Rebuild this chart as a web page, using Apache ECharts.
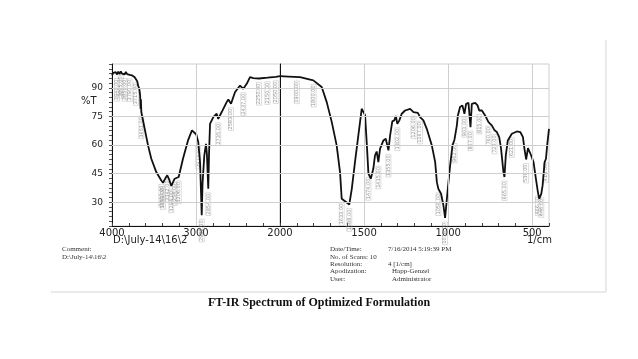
<!DOCTYPE html>
<html><head><meta charset="utf-8">
<script src="https://cdn.jsdelivr.net/npm/echarts@6/dist/echarts.min.js"></script>
<style>html,body{margin:0;padding:0;background:#fff}#c{width:638px;height:359px}</style>
</head><body><div id="c"></div>
<script>
// Wavenumber (1/cm) and %T, 4000 -> 2000 section
const wnHigh = [4000,3985,3970,3955,3940,3925,3910,3895,3880,3865,3850,3835,3820,3805,3790,3775,3760,3745,3730,3715,3700,3690,3675,3665,3660,3656,3651,3611,3571,3532,3473,3413,3393,3365,3342,3320,3294,3254,3206,3155,3095,3048,3030,2996,2973,2952,2940,2932,2922,2901,2881,2870,2854,2845,2833,2794,2754,2735,2694,2635,2615,2583,2536,2476,2437,2396,2357,2318,2250,2150,2050,2000];
const tHigh  = [96.5,97.8,96.8,98.2,97.0,98.5,97.2,98.6,97.4,98.4,97.0,98.3,97.2,98.0,96.8,97.6,96.5,96.8,95.5,94.8,93.5,91.3,89.5,86,79,84,77.3,68.5,59.8,52.8,45.8,41.4,40.2,42.5,44.1,42,38.5,42.3,43.2,52.8,62.4,67.7,67.5,65.5,61.5,51,35,23.1,40,54.5,60.6,55,37.0,55,71.1,74.6,76.4,73.7,77.3,82.5,83.9,81.6,87.7,91.2,89.5,92.1,95.6,95.1,94.9,95.3,95.8,96.1];
// 2000 -> 400 section
const wnLow = [2000,1950,1881,1802,1752,1722,1692,1663,1643,1633,1623,1607,1588,1573,1554,1534,1514,1508,1494,1484,1474,1460,1445,1435,1425,1415,1405,1385,1371,1355,1345,1332,1320,1311,1302,1290,1276,1256,1226,1206,1196,1180,1167,1147,1127,1097,1077,1067,1058,1042,1028,1018,1002,988,974,962,948,942,929,915,903,893,879,867,859,839,825,815,799,780,760,740,724,710,696,685,671,665,657,645,621,591,571,555,546,536,525,518,506,492,478,466,458,446,438,426,418,411,400];
const tLow  = [96.1,95.9,95.6,93.9,90.4,82.5,72,59.8,45.8,31.8,32.7,30.1,28.7,37,51,65,79,79.9,75.7,61,45,42.3,47.5,54.5,56.6,51,58,62.4,63.3,57.2,65,72.4,72.9,75.2,71.1,72.9,76.4,78.1,79,77.3,76.4,76.9,74.6,72.9,68.5,59.8,51,40.5,37,34.4,28.3,21.7,37,49.3,59.8,62.9,70.3,75.5,79.9,80.8,76.4,81.6,82.1,69.4,81.6,82.1,80.8,78.1,78.1,75.5,72,70.3,67.7,66.8,64.1,58,45.8,43.2,54.5,62.4,65.9,67.1,66.8,64.1,58,52.4,58.4,59.4,54.5,51,42.3,35.3,31.8,34.4,38.8,51,52.8,59.8,68.5];
// Peak annotations
const peakWn = [3940,3895,3850,3790,3715,3651,3413,3393,3342,3294,3254,3206,2973,2932,2854,2735,2583,2437,2250,2150,2050,1900,1800,1633,1588,1474,1415,1355,1302,1206,1167,1058,1018,962,903,867,815,760,724,665,621,536,466,446,418];
const peakT  = [97.0,98.6,97.0,96.8,94.8,77.3,41.4,40.2,44.1,38.5,42.3,43.2,61.5,23.1,37.0,73.7,81.6,89.5,94.9,95.3,95.8,95.7,93.9,31.8,28.7,45,51,57.2,71.1,77.3,74.6,37,21.7,62.9,76.4,69.4,78.1,72,67.7,43.2,65.9,52.4,35.3,34.4,52.8];
const yTickLabels = [30,45,60,75,90];
const xTickLabelsHigh = [4000,3000,2000];
const xTickLabelsLow = [1500,1000,500];
const commentLines = ['Comment:', 'D:\\July-14\\16\\2'];
const infoKeys = ['Date/Time:', 'No. of Scans: 10', 'Resolution:', 'Apodization:', 'User:'];
const infoVals = ['7/16/2014 5:19:39 PM', '', '4 [1/cm]', 'Happ-Genzel', 'Administrator'];
const caption = 'FT-IR Spectrum of Optimized Formulation';
const xTitle = 'D:\\July-14\\16\\2';
const xUnit = '1/cm';
const yTitle = '%T';

const chart = echarts.init(document.getElementById('c'), null, {renderer: 'canvas'});
const sans = 'DejaVu Sans';
const serif = 'Liberation Serif';
const yMin = 17.5, yMax = 102.5;

function yAxisCfg(gi, showLabels) {
  return {
    type: 'value', gridIndex: gi, min: yMin, max: yMax, interval: 2.5,
    axisLine: {show: true, lineStyle: {color: '#111', width: 1}},
    axisTick: {show: showLabels, length: 3, lineStyle: {color: '#555'}},
    axisLabel: {show: showLabels, margin: 9, fontFamily: sans, fontSize: 9, color: '#222',
      formatter: v => yTickLabels.includes(v) ? String(v) : ''},
    splitLine: {show: false}
  };
}
function xAxisCfg(gi, mn, mx, step, labels) {
  return {
    type: 'value', gridIndex: gi, min: mn, max: mx, interval: step, inverse: true,
    axisLine: {show: true, onZero: false, lineStyle: {color: '#111', width: 1}},
    axisTick: {show: true, inside: true, length: 3, lineStyle: {color: '#444'}},
    axisLabel: {margin: 2, fontFamily: sans, fontSize: 10, color: '#222',
      showMinLabel: true, showMaxLabel: true,
      formatter: v => labels.includes(v) ? String(v) : ''},
    splitLine: {show: false}
  };
}
const hi = wnHigh.map((w, i) => [w, tHigh[i]]);
const lo = wnLow.map((w, i) => [w, tLow[i]]);
const pkHi = [], pkLo = [];
peakWn.forEach((w, i) => { (w >= 2000 ? pkHi : pkLo).push([w, peakT[i]]); });

function gridLines(xi, xs) {
  return {
    type: 'line', xAxisIndex: xi, yAxisIndex: xi, data: [], z: 1, silent: true,
    markLine: {silent: true, symbol: 'none', animation: false, label: {show: false},
      lineStyle: {color: '#cfcfcf', width: 1, type: 'solid'},
      data: yTickLabels.map(v => ({yAxis: v})).concat(xs.map(v => ({xAxis: v})))}
  };
}
function peakSeries(xi, data) {
  return {
    type: 'scatter', xAxisIndex: xi, yAxisIndex: xi, data: data, symbolSize: 0, z: 2, silent: true,
    label: {show: true, position: 'bottom', distance: 4, rotate: 90, align: 'right', verticalAlign: 'middle',
      fontFamily: sans, fontSize: 5, color: '#777', borderColor: '#aaa', borderWidth: 0.5, padding: [0, 1],
      formatter: p => p.value[0].toFixed(2)}
  };
}
function lineSeries(xi, data) {
  return {type: 'line', xAxisIndex: xi, yAxisIndex: xi, data: data, showSymbol: false, z: 3,
    lineStyle: {color: '#111', width: 1.8}, animation: false};
}

const gfx = [];
gfx.push({type: 'text', left: 81, top: 96, style: {text: yTitle, font: '10px ' + sans, fill: '#222'}});
gfx.push({type: 'text', left: 113, top: 235, style: {text: xTitle, font: '10px ' + sans, fill: '#222'}});
gfx.push({type: 'text', left: 527, top: 235, style: {text: xUnit, font: '10px ' + sans, fill: '#222'}});
commentLines.forEach((t, i) => gfx.push({type: 'text', left: 62, top: 246 + i * 7.3, style: {text: t, font: '7px ' + serif, fill: '#333'}}));
infoKeys.forEach((t, i) => gfx.push({type: 'text', left: 330, top: 246 + i * 7.3, style: {text: t, font: '7px ' + serif, fill: '#333'}}));
infoVals.forEach((t, i) => { if (t) gfx.push({type: 'text', left: i >= 3 ? 392 : 388, top: 246 + i * 7.3, style: {text: t, font: '7px ' + serif, fill: '#333'}}); });
gfx.push({type: 'line', shape: {x1: 51, y1: 292, x2: 606, y2: 292}, style: {stroke: '#d6d6d6', lineWidth: 1}});
gfx.push({type: 'line', shape: {x1: 606, y1: 40, x2: 606, y2: 292}, style: {stroke: '#d6d6d6', lineWidth: 1}});
gfx.push({type: 'text', left: 'center', top: 297, style: {text: caption, font: 'bold 12px ' + serif, fill: '#111'}});

chart.setOption({
  animation: false,
  backgroundColor: '#fff',
  grid: [
    {left: 112, top: 64, width: 168, height: 162, show: true, borderColor: '#cfcfcf', borderWidth: 1, containLabel: false},
    {left: 280, top: 64, width: 269, height: 162, show: true, borderColor: '#cfcfcf', borderWidth: 1, containLabel: false}
  ],
  xAxis: [xAxisCfg(0, 2000, 4000, 200, xTickLabelsHigh), xAxisCfg(1, 400, 2000, 100, xTickLabelsLow)],
  yAxis: [yAxisCfg(0, true), yAxisCfg(1, false)],
  series: [
    gridLines(0, [3000]), gridLines(1, xTickLabelsLow),
    peakSeries(0, pkHi), peakSeries(1, pkLo),
    lineSeries(0, hi), lineSeries(1, lo)
  ],
  graphic: gfx
});
</script></body></html>
